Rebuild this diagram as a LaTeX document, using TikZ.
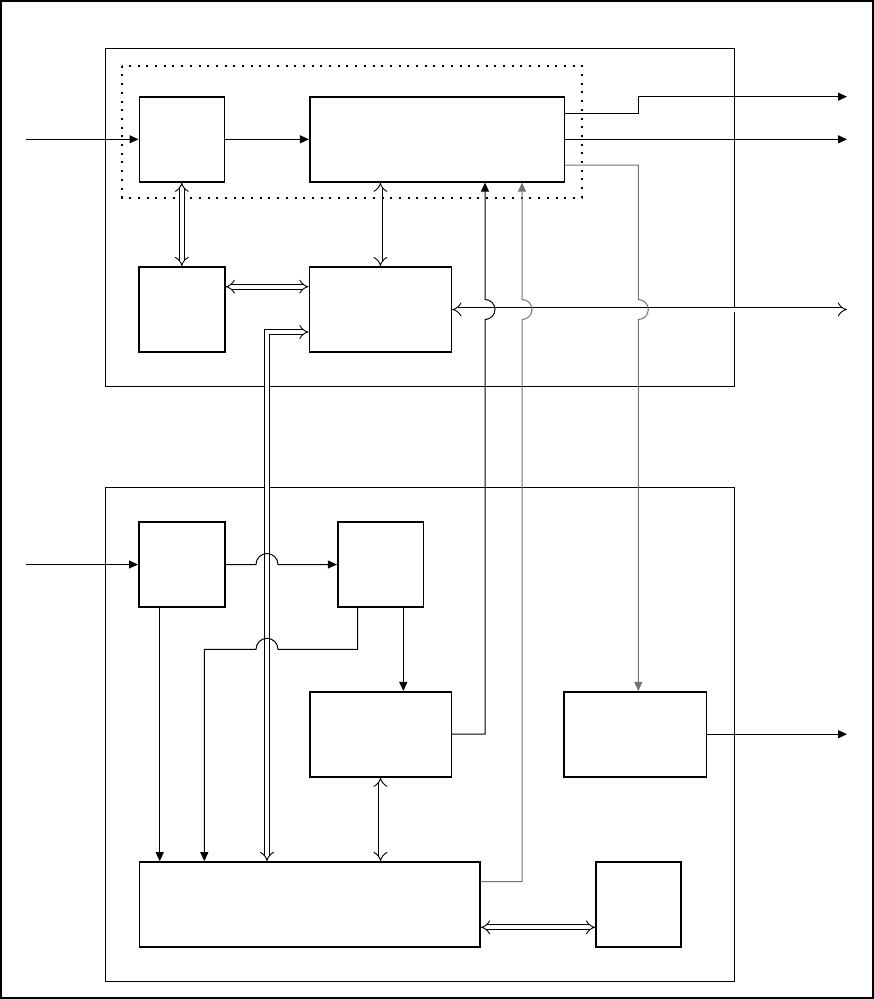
\documentclass[tikz,border=0pt]{standalone}
\usetikzlibrary{arrows.meta,calc}

\begin{document}
\begin{tikzpicture}[x=1pt,y=-1pt,
    blk/.style={draw,line width=1.6pt,inner sep=0pt,minimum height=85pt},
    wrap/.style={draw,line width=1pt},
    sig/.style={line width=1pt,-{Triangle[length=9pt,width=8pt]}},
    faint/.style={draw=black!55},
    bus/.style={draw=black,double=white,line width=0.9pt,double distance=4pt,{Implies}-{Implies}}]
    \useasboundingbox (0,0) rectangle (874,999);
    \draw[line width=1.5pt] (1,1) rectangle (873,998);
    % the two units and the dotted group
    \draw[wrap] (105,48.3) rectangle (734,386);
    \draw[wrap] (105,487.3) rectangle (734,981);
    \draw[line width=2pt,dash pattern=on 2pt off 6.7pt] (122,65.7) rectangle (581.7,197.7);
    % blocks
    \node[blk,minimum width=85pt] (cam) at (181.8,139.3) {};
    \node[blk,minimum width=254.6pt] (core) at (437,139.3) {};
    \node[blk,minimum width=86pt] (mem) at (181.8,309.5) {};
    \node[blk,minimum width=142pt] (ctl) at (380.4,309.5) {};
    \node[blk,minimum width=86pt] (in2) at (181.8,564.5) {};
    \node[blk,minimum width=85.6pt] (pre) at (380.5,564.5) {};
    \node[blk,minimum width=141.6pt] (proc) at (380.5,734.2) {};
    \node[blk,minimum width=142.6pt] (outb) at (635,734.2) {};
    \node[blk,minimum width=340.7pt] (main) at (309.7,904.5) {};
    \node[blk,minimum width=85pt] (aux) at (638.5,904.5) {};
    % free ends and bends
    \coordinate (inT) at (26,139.3);
    \coordinate (inB) at (26,564.5);
    \coordinate (outA) at (847,96.7);
    \coordinate (outB) at (847,139.3);
    \coordinate (outC) at (847,309.5);
    \coordinate (outD) at (847,734.2);
    \coordinate (kink) at (638.3,0);
    \coordinate (hx1) at (485,0);
    \coordinate (hx2) at (522,0);
    \coordinate (bx) at (267,0);
    \coordinate (e1) at (159.7,0);
    \coordinate (f1) at (357.7,649.3);
    \coordinate (e2) at (204.3,649.3);
    \coordinate (f2) at (403.3,0);
    % buses
    \draw[bus] (cam.south) -- (mem.north);
    \draw[bus] (ctl.north |- core.south) -- (ctl.north);
    \draw[bus] ([yshift=22.8pt]mem.east) -- ([yshift=22.8pt]ctl.west);
    \draw[bus] (ctl.east) -- (outC);
    \draw[bus] ([yshift=-22.5pt]ctl.west) -| (bx |- main.north);
    \draw[bus] (proc.south) -- (proc.south |- main.north);
    \draw[bus] ([yshift=-22.8pt]main.east) -- ([yshift=-22.8pt]aux.west);
    % signals
    \draw[sig] (inT) -- (cam.west);
    \draw[sig] (cam.east) -- (core.west);
    \draw[sig] ([yshift=26.3pt]core.east) -| (kink |- outA) -- (outA);
    \draw[sig] (core.east) -- (outB);
    \draw[sig,faint] ([yshift=-25.7pt]core.east) -| ($(kink |- outC)+(0,-10)$)
      arc[start angle=-90,end angle=90,radius=10] -- (kink |- outb.north);
    \draw[sig] (proc.east) -| ($(hx1 |- outC)+(0,10)$)
      arc[start angle=90,end angle=-90,radius=10] -- (hx1 |- core.south);
    \draw[sig,faint] ([yshift=22.8pt]main.east) -| ($(hx2 |- outC)+(0,10)$)
      arc[start angle=90,end angle=-90,radius=10] -- (hx2 |- core.south);
    \draw[sig] (inB) -- (in2.west);
    \draw[sig] (in2.east) -- ($(bx |- in2.east)+(-11,0)$)
      arc[start angle=180,end angle=360,radius=11] -- (pre.west);
    \draw[sig] (e1 |- in2.south) -- (e1 |- main.north);
    \draw[sig] (f1 |- pre.south) -- (f1) -- ($(bx |- f1)+(11,0)$)
      arc[start angle=0,end angle=-180,radius=11] -- (e2) -- (e2 |- main.north);
    \draw[sig,line width=1.4pt] (f2 |- pre.south) -- (f2 |- proc.north);
    \draw[sig] (outb.east) -- (outD);
\end{tikzpicture}
\end{document}
